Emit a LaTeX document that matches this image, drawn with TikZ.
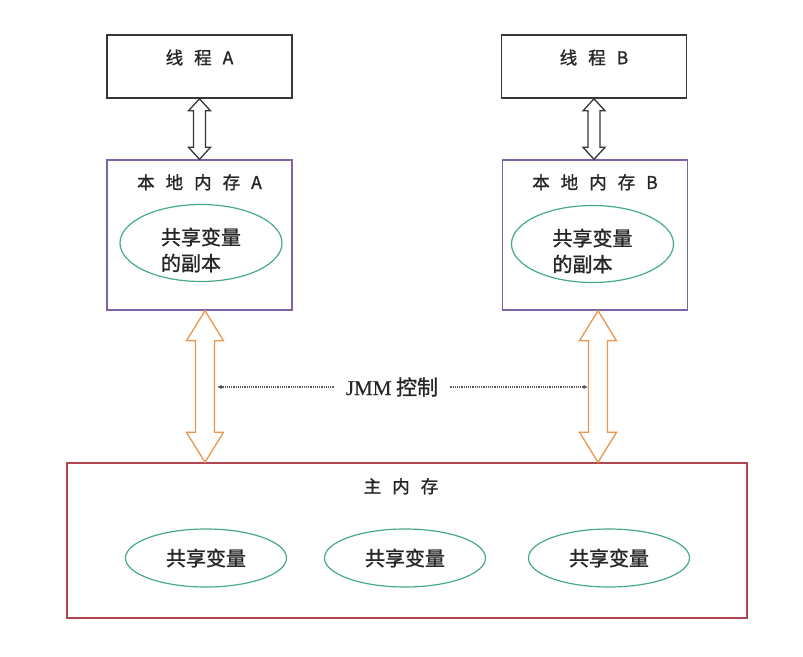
\documentclass[tikz,border=0pt]{standalone}
\usepackage{fontspec}
\setmainfont{Noto Sans CJK SC}[BoldFont=Noto Sans CJK SC, BoldFeatures={FakeBold=1.2}]
\newfontfamily\latinserif{Liberation Serif}[FakeBold=0.5]
\usepackage{xcolor}
\usepackage{tikz}
\usetikzlibrary{calc,shapes.geometric,arrows.meta}

\definecolor{threadgray}{RGB}{55,55,55}
\definecolor{localpurple}{RGB}{125,100,165}
\definecolor{copygreen}{RGB}{70,170,130}
\definecolor{busorange}{RGB}{232,150,80}
\definecolor{mainred}{RGB}{178,70,80}

\newcommand{\chgap}{\hspace{11pt}}
% hollow double arrow between two points: style, top, bottom, shaft half, head half, head length
\newcommand{\fatarrow}[6]{%
  \draw[#1] let \p1=(#2), \p2=(#3) in
    (\x1,\y1) -- (\x1+#5,\y1-#6) -- (\x1+#4,\y1-#6) -- (\x1+#4,\y2+#6)
    -- (\x1+#5,\y2+#6) -- (\x1,\y2) -- (\x1-#5,\y2+#6) -- (\x1-#4,\y2+#6)
    -- (\x1-#4,\y1-#6) -- (\x1-#5,\y1-#6) -- cycle;}

\tikzset{
  threadbox/.style={draw=threadgray, line width=1.6pt, minimum width=185pt, minimum height=63pt},
  localbox/.style={draw=localpurple, line width=1.4pt, minimum width=185pt, minimum height=150pt},
  mainbox/.style={draw=mainred, line width=1.4pt, minimum width=680pt, minimum height=155pt},
  vartext/.style={text=black!85, font=\fontsize{20pt}{26pt}\selectfont\bfseries},
  varshape/.style={ellipse, draw=copygreen, line width=1.2pt, minimum width=161pt, minimum height=58pt, vartext},
  copyshape/.style={ellipse, draw=copygreen, line width=1.2pt, minimum width=162pt, minimum height=77pt},
  lbl/.style={text=black!85, font=\fontsize{17.5pt}{20pt}\selectfont\bfseries},
  threadlink/.style={draw=threadgray, fill=white, line width=1.3pt, line join=miter},
  buslink/.style={draw=busorange, fill=white, line width=1.3pt, line join=miter},
  jmmlink/.style={densely dotted, line width=1.2pt, draw=black!65, -{Latex[length=4.5pt,width=4.5pt]}}
}

\begin{document}
\begin{tikzpicture}[x=1pt, y=-1pt]
\useasboundingbox (0,0) rectangle (803,656);

% threads
\node[threadbox] (thA) at (199.5,66.5) {};
\node[threadbox] (thB) at (594,66.5) {};
\node[lbl] (thAlbl) at ([yshift=9pt]thA.center) {线\chgap 程\chgap A};
\node[lbl] (thBlbl) at ([yshift=9pt]thB.center) {线\chgap 程\chgap B};

% working memory
\node[localbox] (locA) at (199.5,235) {};
\node[localbox] (locB) at (595,235) {};
\node[lbl] (locAlbl) at ([yshift=-23pt]locA.north) {本\chgap 地\chgap 内\chgap 存\chgap A};
\node[lbl] (locBlbl) at ([yshift=-23pt]locB.north) {本\chgap 地\chgap 内\chgap 存\chgap B};
\node[copyshape] (cpA) at (201,243) {};
\node[copyshape] (cpB) at (592.5,244) {};
\node[align=left, vartext] (cpAtxt) at ([yshift=-7pt]cpA.center) {共享变量\\的副本};
\node[align=left, vartext] (cpBtxt) at ([yshift=-7pt]cpB.center) {共享变量\\的副本};

% main memory
\node[mainbox] (main) at (407,540.5) {};
\node[lbl] (mainlbl) at ([yshift=-24pt]main.north -| 401,0) {主\chgap 内\chgap 存};
\node[varshape] (var1) at (206,558) {共享变量};
\node[varshape] (var2) at (405,558) {共享变量};
\node[varshape] (var3) at (609,558) {共享变量};

% links
\fatarrow{threadlink}{thA.south}{locA.north}{6pt}{11pt}{12pt}
\fatarrow{threadlink}{thB.south}{locB.north}{6pt}{11pt}{12pt}
\coordinate (oa) at ([xshift=5.5pt]locA.south);
\coordinate (ob) at ([xshift=3pt]locB.south);
\fatarrow{buslink}{oa}{oa |- main.north}{9.5pt}{18.5pt}{30pt}
\fatarrow{buslink}{ob}{ob |- main.north}{9.5pt}{18.5pt}{30pt}

% JMM
\node[inner xsep=12pt, text=black!85, font=\fontsize{21pt}{24pt}\selectfont\bfseries] (jmm) at (392,387) {{\mdseries\latinserif JMM} 控制};
\coordinate (jmmL) at ([xshift=12pt]oa |- jmm);
\coordinate (jmmR) at ([xshift=-10pt]ob |- jmm);
\draw[jmmlink] (jmm.west) -- (jmmL);
\draw[jmmlink] (jmm.east) -- (jmmR);
\end{tikzpicture}
\end{document}
